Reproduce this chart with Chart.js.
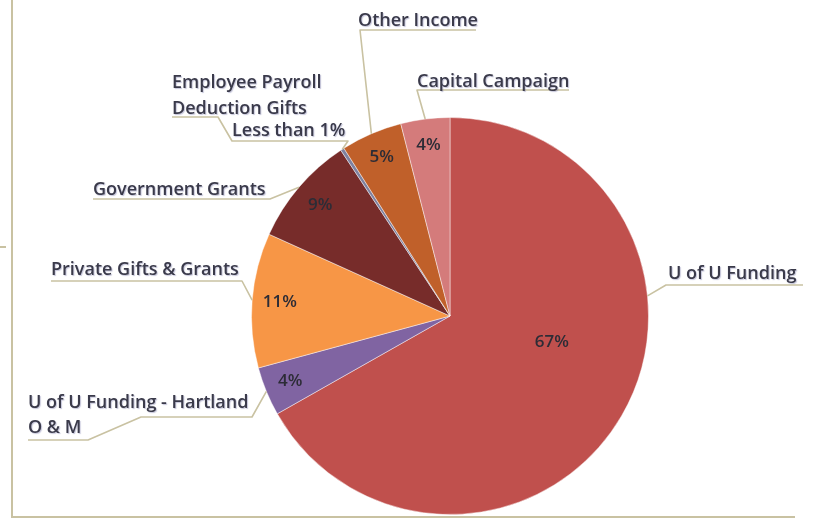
<!DOCTYPE html>
<html>
<head>
<meta charset="utf-8">
<script src="https://cdn.jsdelivr.net/npm/chart.js@4/dist/chart.umd.min.js"></script>
<style>
  body { margin: 0; background: #fff; }
  canvas { display: block; }
</style>
</head>
<body>
<canvas id="myChart" width="817" height="523"></canvas>
<script>
// slices clockwise from 12 o'clock
var categories = [
    "U of U Funding",
    "U of U Funding - Hartland O & M",
    "Private Gifts & Grants",
    "Government Grants",
    "Employee Payroll Deduction Gifts",
    "Other Income",
    "Capital Campaign"
];
var shares = [67, 4, 11, 9, 0.3, 5, 4];
var shareText = ["67%", "4%", "11%", "9%", "", "5%", "4%"];
var sliceColors = [
    "#c0504d",
    "#8064a2",
    "#f79646",
    "#772c2a",
    "#7f819f",
    "#c0602a",
    "#d47b7b"
];

var lineColor = "#c9c2a2";
var textColor = "#3a3a4a";
var labelFont = "600 18px 'Open Sans'";

// outside labels: text lines (x, baseline) and leader path, last point goes to the slice edge
var callouts = [
    { index: 0, along: 0.35, lines: [["U of U Funding", 668, 279]], path: [[803, 285], [666, 285]] },
    { index: 1, along: 0.5, lines: [["U of U Funding - Hartland", 28, 408], ["O & M", 28, 433]],
      path: [[28, 440], [88, 440], [141, 417], [252, 417]] },
    { index: 2, along: 0.5, lines: [["Private Gifts & Grants", 51, 275]], path: [[51, 281], [242, 281]] },
    { index: 3, along: 0.5, lines: [["Government Grants", 93, 195]], path: [[93, 199], [270, 199]] },
    { index: 4, along: 0.5, lines: [["Employee Payroll", 172, 88], ["Deduction Gifts", 172, 114], ["Less than 1%", 232, 136]],
      path: [[172, 117], [218, 117], [232, 141], [348, 141]] },
    { index: 5, along: 0.5, lines: [["Other Income", 358, 26]], path: [[476, 30], [360, 30]] },
    { index: 6, along: 0.5, lines: [["Capital Campaign", 417, 87]], path: [[569, 90], [417, 90]] }
];
// where the % text sits inside each slice (fraction along the arc, fraction of radius)
var pctPlace = [[0.435, 0.53], [0.5, 0.87], [0.5, 0.86], [0.5, 0.86], [0.5, 0.86], [0.5, 0.87], [0.5, 0.87]];

function edgePoint(arc, along, rf) {
    var p = arc.getProps(["x", "y", "startAngle", "endAngle", "outerRadius"], true);
    var a = p.startAngle + (p.endAngle - p.startAngle) * along;
    return [p.x + Math.cos(a) * p.outerRadius * rf, p.y + Math.sin(a) * p.outerRadius * rf];
}

var calloutPlugin = {
    id: "callouts",
    beforeDraw: function (chart) {
        var ctx = chart.ctx;
        ctx.save();
        ctx.strokeStyle = lineColor;
        ctx.lineWidth = 2;
        ctx.beginPath();
        ctx.moveTo(12, 0);
        ctx.lineTo(12, 517);
        ctx.lineTo(795, 517);
        ctx.moveTo(0, 247);
        ctx.lineTo(6, 247);
        ctx.stroke();
        ctx.restore();
    },
    afterDatasetsDraw: function (chart) {
        var ctx = chart.ctx;
        var arcs = chart.getDatasetMeta(0).data;
        ctx.save();
        // leader lines
        ctx.strokeStyle = lineColor;
        ctx.lineWidth = 1.6;
        ctx.lineJoin = "round";
        callouts.forEach(function (c) {
            var end = edgePoint(arcs[c.index], c.along, 1);
            ctx.beginPath();
            ctx.moveTo(c.path[0][0], c.path[0][1]);
            for (var i = 1; i < c.path.length; i++) ctx.lineTo(c.path[i][0], c.path[i][1]);
            ctx.lineTo(end[0], end[1]);
            ctx.stroke();
        });
        // label text
        ctx.font = labelFont;
        ctx.fillStyle = textColor;
        ctx.textAlign = "left";
        ctx.textBaseline = "alphabetic";
        ctx.shadowColor = "rgba(90,90,150,0.35)";
        ctx.shadowBlur = 1;
        ctx.shadowOffsetX = 1;
        ctx.shadowOffsetY = 1;
        callouts.forEach(function (c) {
            c.lines.forEach(function (l) { ctx.fillText(l[0], l[1], l[2]); });
        });
        // percentages
        ctx.shadowColor = "transparent";
        ctx.font = "600 17px 'Open Sans'";
        ctx.fillStyle = "#2c2c36";
        ctx.textAlign = "center";
        ctx.textBaseline = "middle";
        arcs.forEach(function (arc, i) {
            if (!shareText[i]) return;
            var p = edgePoint(arc, pctPlace[i][0], pctPlace[i][1]);
            ctx.fillText(shareText[i], p[0], p[1]);
        });
        ctx.restore();
    }
};

new Chart("myChart", {
    type: "pie",
    data: {
        labels: categories,
        datasets: [{
            data: shares,
            backgroundColor: sliceColors,
            borderColor: "rgba(255,255,255,0.45)",
            borderWidth: 1
        }]
    },
    options: {
        responsive: false,
        animation: false,
        layout: { padding: { top: 117, bottom: 8, left: 251, right: 168 } },
        plugins: {
            legend: { display: false },
            tooltip: { enabled: false }
        }
    },
    plugins: [calloutPlugin]
});
</script>
</body>
</html>
